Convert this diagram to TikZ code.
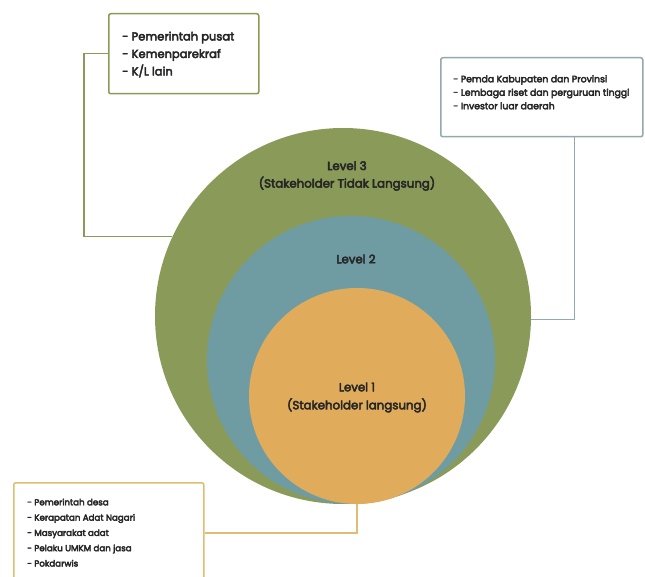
\documentclass[tikz,border=0pt]{standalone}
\usepackage{fontspec}
\setmainfont{Poppins}[FakeBold=4]
\definecolor{olv}{HTML}{8A9A58}
\definecolor{tealc}{HTML}{6F9CA3}
\definecolor{orng}{HTML}{E0AC5C}
\definecolor{boxgray}{HTML}{95A8AC}
\definecolor{boxtan}{HTML}{DDBE72}
\definecolor{txt}{HTML}{262626}
\begin{document}
\begin{tikzpicture}[x=1pt,y=-1pt,
  ring/.style={circle, draw=none, inner sep=0pt},
  lbl/.style={font=\fontsize{11.8}{17.5}\selectfont, text=txt, align=center},
  frame/.style={draw, line width=1.5pt, rounded corners=2pt, inner sep=0pt, anchor=north west},
  list/.style={anchor=north west, align=left, text=txt, inner sep=0pt},
  conn/.style={line width=1.5pt}
]
\useasboundingbox (0,0) rectangle (645,577);
\clip (0,0) rectangle (645,577);
\fill[white] (0,0) rectangle (645,577);

% boxes
\node[frame, draw=olv, minimum width=150pt, minimum height=80pt] (bA) at (108,13) {};
\node[frame, draw=boxgray, minimum width=202pt, minimum height=79pt] (bB) at (440,57) {};
\node[frame, draw=boxtan, minimum width=190pt, minimum height=100pt] (bC) at (13,482) {};

% circles
\node[ring, fill=olv, minimum size=376pt] (c3) at (343,316) {};
\node[ring, fill=tealc, minimum size=288pt] (c2) at (351,360) {};
\node[ring, fill=orng, minimum size=216pt] (c1) at (357,396) {};

% connectors
\draw[conn, olv] (bA.west) -- ++(-24,0) |- (c3.155);
\draw[conn, boxgray] ([xshift=-69pt]bB.south east) |- (c3.-1);
\draw[conn, boxtan] (c1.south) |- (bC.east);

% labels
\node[lbl] (l3) at (347,176) {Level 3\\(Stakeholder Tidak Langsung)};
\node[lbl] (l2) at (356,259) {Level 2};
\node[lbl, font=\fontsize{11.8}{18}\selectfont] (l1) at (357,397.5) {Level 1\\(Stakeholder langsung)};

% lists
\node[list, font=\fontsize{11.5}{17.5}\selectfont] (tA) at (122,31.5) {- Pemerintah pusat\\- Kemenparekraf\\- K/L lain};
\node[list, font=\fontsize{9.3}{13.5}\selectfont] (tB) at (453,75) {- Pemda Kabupaten dan Provinsi\\- Lembaga riset dan perguruan tinggi\\- Investor luar daerah};
\node[list, font=\fontsize{8.7}{15.3}\selectfont] (tC) at (27,498.5) {- Pemerintah desa\\- Kerapatan Adat Nagari\\- Masyarakat adat\\- Pelaku UMKM dan jasa\\- Pokdarwis};
\end{tikzpicture}
\end{document}
